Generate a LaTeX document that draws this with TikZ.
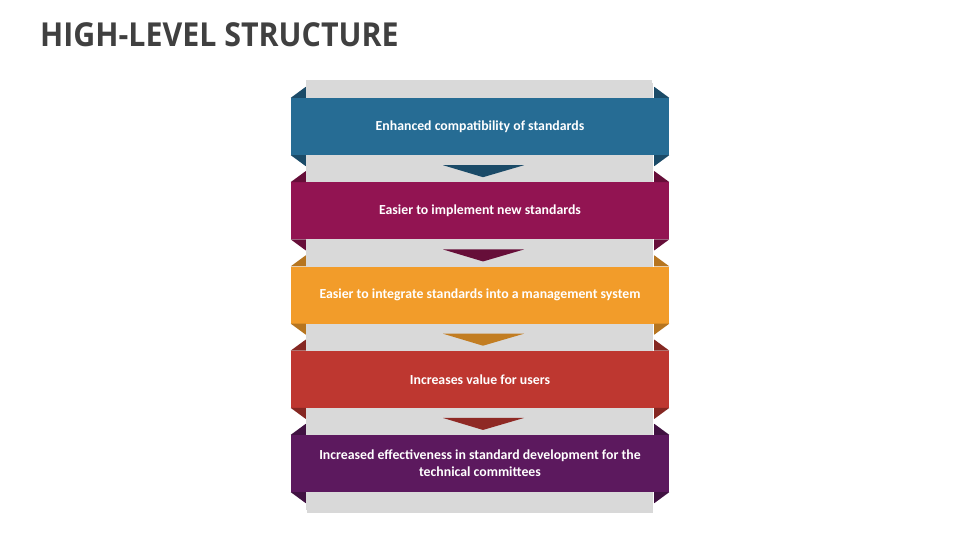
\documentclass[tikz,border=0pt]{standalone}
\usepackage{fontspec}
\setmainfont{Carlito}
\newfontfamily\titlefont{Open Sans}
\definecolor{cA}{RGB}{38,108,148}
\definecolor{cB}{RGB}{146,20,82}
\definecolor{cC}{RGB}{242,156,42}
\definecolor{cD}{RGB}{190,55,48}
\definecolor{cE}{RGB}{92,25,94}
\definecolor{panel}{RGB}{217,217,217}
\definecolor{titlegray}{RGB}{64,64,64}
\tikzset{
  band/.style={minimum width=378pt, minimum height=57pt, inner sep=0pt, text=white,
    font=\fontsize{13.8}{17}\selectfont\bfseries, align=center},
}
\newcommand{\folds}[2]{%
  \fill[#2] (#1.north west) -- ++(15,0) -- ++(0,-11) -- cycle;
  \fill[#2] (#1.south west) -- ++(15,0) -- ++(0,11) -- cycle;
  \fill[#2] (#1.north east) -- ++(-15,0) -- ++(0,-11) -- cycle;
  \fill[#2] (#1.south east) -- ++(-15,0) -- ++(0,11) -- cycle;
}
\newcommand{\chev}[2]{%
  \fill[#2] ([xshift=-37pt,yshift=-10pt]#1.south) -- ([xshift=44pt,yshift=-10pt]#1.south) -- ([xshift=3pt,yshift=-22pt]#1.south) -- cycle;
}
\begin{document}
\begin{tikzpicture}[x=1pt,y=-1pt]
\useasboundingbox (0,0) rectangle (960,540);
\fill[white] (0,0) rectangle (960,540);
\node[anchor=base west, inner sep=0pt, text=titlegray] (title) at (40,47)
  {\titlefont\bfseries\scalebox{0.92}[1]{\fontsize{33}{40}\selectfont HIGH-LEVEL STRUCTURE}};
% panel shadow and panel
\fill[black!30, opacity=0.5] (307,83) rectangle (653,512.5);
\fill[panel] (306,80) rectangle (652,510);
% bands
\node[band, fill=cA] (b1) at (480,126.5) {Enhanced compatibility of standards};
\node[band, fill=cB] (b2) at (480,210.75) {Easier to implement new standards};
\node[band, fill=cC] (b3) at (480,295) {Easier to integrate standards into a management system};
\node[band, fill=cD] (b4) at (480,379.25) {Increases value for users};
\node[band, fill=cE] (b5) at (480,463.5) {Increased effectiveness in standard development for the\\technical committees};
\folds{b1}{cA!70!black}
\folds{b2}{cB!70!black}
\folds{b3}{cC!75!black}
\folds{b4}{cD!70!black}
\folds{b5}{cE!70!black}
\chev{b1}{cA!70!black}
\chev{b2}{cB!70!black}
\chev{b3}{cC!80!black}
\chev{b4}{cD!75!black}
\end{tikzpicture}
\end{document}
